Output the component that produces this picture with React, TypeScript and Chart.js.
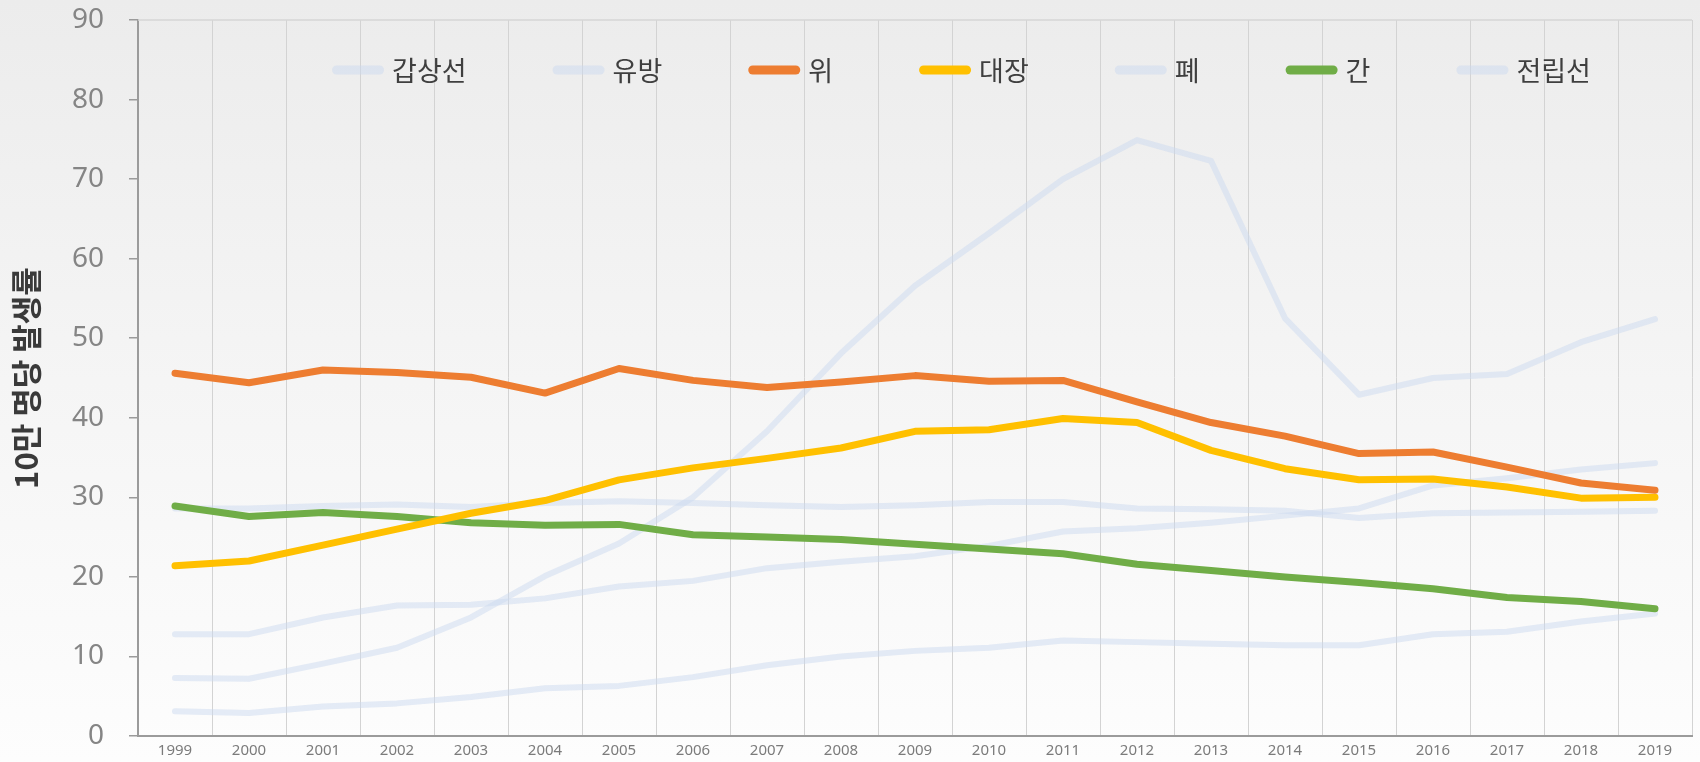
import React, { useEffect, useRef } from "react";
import { Chart, registerables } from "chart.js";

Chart.register(...registerables);

const years = ["1999","2000","2001","2002","2003","2004","2005","2006","2007","2008","2009","2010","2011","2012","2013","2014","2015","2016","2017","2018","2019"];

const labels = ["갑상선", "유방", "위", "대장", "폐", "간", "전립선"];

const thyroid = [7.3, 7.2, 9.1, 11.1, 14.9, 20.1, 24.2, 30.0, 38.3, 48.1, 56.6, 63.2, 70.0, 74.9, 72.3, 52.5, 42.9, 45.0, 45.5, 49.5, 52.4];
const breast = [12.8, 12.8, 14.9, 16.4, 16.5, 17.3, 18.8, 19.5, 21.1, 21.9, 22.6, 23.9, 25.7, 26.1, 26.8, 27.7, 28.6, 31.5, 32.4, 33.5, 34.3];
const stomach = [45.6, 44.4, 46.0, 45.7, 45.1, 43.1, 46.2, 44.7, 43.8, 44.5, 45.3, 44.6, 44.7, 42.0, 39.4, 37.7, 35.5, 35.7, 33.8, 31.8, 30.9];
const colorectal = [21.4, 22.0, 24.0, 26.0, 28.0, 29.6, 32.2, 33.7, 34.9, 36.2, 38.3, 38.5, 39.9, 39.4, 35.9, 33.6, 32.2, 32.3, 31.3, 29.9, 30.0];
const lung = [28.6, 28.6, 28.9, 29.1, 28.8, 29.3, 29.5, 29.3, 29.0, 28.8, 29.0, 29.4, 29.4, 28.6, 28.5, 28.3, 27.4, 28.0, 28.1, 28.2, 28.3];
const liver = [28.9, 27.6, 28.1, 27.6, 26.8, 26.5, 26.6, 25.3, 25.0, 24.7, 24.1, 23.5, 22.9, 21.6, 20.8, 20.0, 19.3, 18.5, 17.4, 16.9, 16.0];
const prostate = [3.1, 2.9, 3.7, 4.1, 4.9, 6.0, 6.3, 7.4, 8.9, 10.0, 10.7, 11.1, 12.0, 11.8, 11.6, 11.4, 11.4, 12.8, 13.1, 14.4, 15.4];

const FAINT = "rgba(203,218,240,0.5)";
const ORANGE = "#ED7D31";
const YELLOW = "#FFC000";
const GREEN = "#70AD47";

const TARGET_TOP = 20;
const TARGET_BOTTOM = 736;

const customPlugin = {
  id: "custom",
  beforeDraw(chart: any) {
    const { ctx, width, height } = chart;
    ctx.save();
    const g = ctx.createLinearGradient(0, 0, 0, height);
    g.addColorStop(0, "#ececec");
    g.addColorStop(0.5, "#f5f5f5");
    g.addColorStop(1, "#fdfdfd");
    ctx.fillStyle = g;
    ctx.fillRect(0, 0, width, height);
    ctx.restore();
  },
  beforeDatasetsDraw(chart: any) {
    const { ctx, chartArea } = chart;
    ctx.save();
    ctx.strokeStyle = "#d6d6d6";
    ctx.lineWidth = 1.5;
    ctx.beginPath();
    ctx.moveTo(chartArea.left, chartArea.top);
    ctx.lineTo(chartArea.right, chartArea.top);
    ctx.stroke();
    ctx.restore();
  },
  afterDraw(chart: any) {
    const { ctx } = chart;
    ctx.save();
    ctx.font = "27px 'Noto Sans CJK KR', sans-serif";
    const sw = 52, gap = 8, spacing = 86;
    const items = chart.data.datasets.map((ds: any) => ({
      label: ds.label,
      color: ds.borderColor,
      w: ctx.measureText(ds.label).width,
    }));
    let total = 0;
    items.forEach((it: any, i: number) => {
      total += sw + gap + it.w + (i > 0 ? spacing : 0);
    });
    let x = 961.5 - total / 2;
    const y = 70;
    items.forEach((it: any) => {
      ctx.strokeStyle = it.color;
      ctx.lineWidth = 9;
      ctx.lineCap = "round";
      ctx.beginPath();
      ctx.moveTo(x + 4.5, y);
      ctx.lineTo(x + sw - 4.5, y);
      ctx.stroke();
      ctx.fillStyle = "#3f3f3f";
      ctx.textBaseline = "middle";
      ctx.textAlign = "left";
      ctx.fillText(it.label, x + sw + gap, y + 1);
      x += sw + gap + it.w + spacing;
    });
    ctx.restore();
  },
};

export default function App() {
  const ref = useRef<HTMLCanvasElement>(null);
  useEffect(() => {
    const mk = (label: string, data: number[], color: string, main: boolean) => ({
      label,
      data,
      borderColor: color,
      backgroundColor: color,
      borderWidth: main ? 7 : 6,
      pointRadius: 0,
      pointHoverRadius: 0,
      tension: 0,
      borderCapStyle: "round",
      borderJoinStyle: "round",
      fill: false,
      order: main ? 0 : 1,
    });
    const chart = new Chart(ref.current as HTMLCanvasElement, {
      type: "line",
      data: {
        labels: years,
        datasets: [
          mk(labels[0], thyroid, FAINT, false),
          mk(labels[1], breast, FAINT, false),
          mk(labels[2], stomach, ORANGE, true),
          mk(labels[3], colorectal, YELLOW, true),
          mk(labels[4], lung, FAINT, false),
          mk(labels[5], liver, GREEN, true),
          mk(labels[6], prostate, FAINT, false),
        ] as any,
      },
      options: {
        responsive: false,
        devicePixelRatio: 1,
        animation: false,
        layout: { padding: { top: TARGET_TOP, right: 8, bottom: 0, left: 0 } },
        plugins: {
          legend: { display: false },
          tooltip: { enabled: false },
        },
        scales: {
          x: {
            type: "category",
            offset: true,
            grid: { display: true, offset: true, color: "#d3d3d3", lineWidth: 1, drawTicks: false },
            border: { display: true, color: "#9b9b9b", width: 2 },
            ticks: {
              color: "#7b7b7b",
              font: { family: "'Noto Sans', sans-serif", size: 15 },
              padding: 6,
              maxRotation: 0,
              autoSkip: false,
            },
            afterFit: (s: any) => { s.height = 762 - TARGET_BOTTOM; },
          },
          y: {
            min: 0,
            max: 90,
            ticks: {
              stepSize: 10,
              color: "#858585",
              font: { family: "'Noto Sans', sans-serif", size: 28 },
              padding: 25,
            },
            grid: { drawOnChartArea: false, drawTicks: true, tickLength: 9, color: "#9b9b9b", lineWidth: 1.5 },
            border: { display: true, color: "#9b9b9b", width: 2 },
            title: {
              display: true,
              text: "10만 명당 발생률",
              color: "#3a3a3a",
              font: { family: "'Noto Sans CJK KR', sans-serif", size: 31, weight: "bold" },
              padding: { top: 8, bottom: 0 },
            },
            afterFit: (s: any) => { s.width = 138; s.paddingTop = 0; s.paddingBottom = 0; },
          },
        },
      } as any,
      plugins: [customPlugin],
    });
    for (let i = 0; i < 3; i++) {
      const ca = chart.chartArea;
      const dt = TARGET_TOP - ca.top;
      const db = ca.bottom - TARGET_BOTTOM;
      if (Math.abs(dt) < 0.5 && Math.abs(db) < 0.5) break;
      const p = (chart.options.layout as any).padding;
      p.top += dt;
      p.bottom += db;
      chart.update();
    }
    return () => chart.destroy();
  }, []);
  return (
    <div style={{ position: "fixed", left: 0, top: 0, width: 1700, height: 762 }}>
      <canvas ref={ref} width={1700} height={762} style={{ display: "block", width: 1700, height: 762 }} />
    </div>
  );
}
